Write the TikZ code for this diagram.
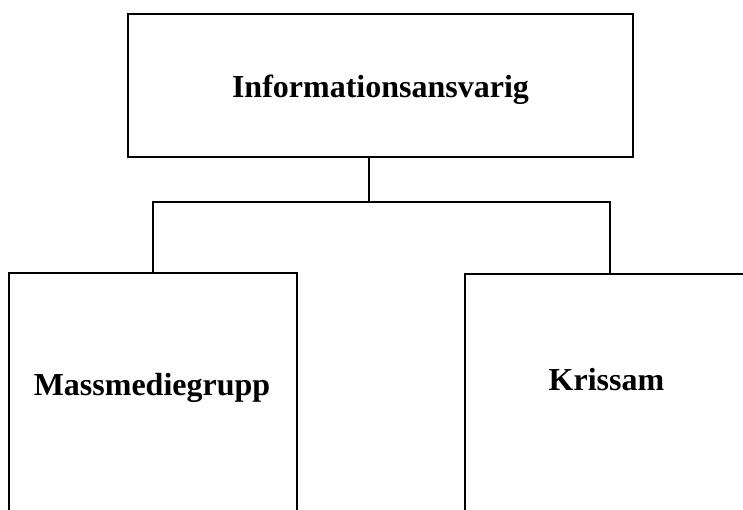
\documentclass[tikz,border=0pt]{standalone}
\usepackage{fontspec}
\setmainfont{Liberation Serif}
\usetikzlibrary{positioning}
\tikzset{
  box/.style={draw, rectangle, line width=1.1pt, inner sep=0pt},
  boxtext/.style={font=\fontsize{32}{38}\selectfont\bfseries, anchor=base, inner sep=0pt},
  link/.style={draw, line width=1.1pt}
}

\begin{document}
\begin{tikzpicture}[x=1pt,y=-1pt]
    \useasboundingbox (0,0) rectangle (743,509);
    \clip (0,0) rectangle (743,509);

    % boxes (the lower two run past the bottom edge)
    \node[box, minimum width=505pt, minimum height=143pt] (info) at (380.5,85.5) {};
    \node[box, minimum width=288pt, minimum height=330pt] (mass) at (153,438) {};
    \node[box, minimum width=290pt, minimum height=330pt] (kris) at (610,439) {};

    \node[boxtext] (infotext) at (380.5,97) {Informationsansvarig};
    \node[boxtext] (masstext) at (152,395) {Massmediegrupp};
    \node[boxtext] (kristext) at (606.5,390) {Krissam};

    % connectors
    \coordinate (fork) at (369,202);
    \draw[link] (info.south -| fork) -- (fork);
    \draw[link] (mass.north) |- (fork) -| (kris.north);
\end{tikzpicture}
\end{document}
